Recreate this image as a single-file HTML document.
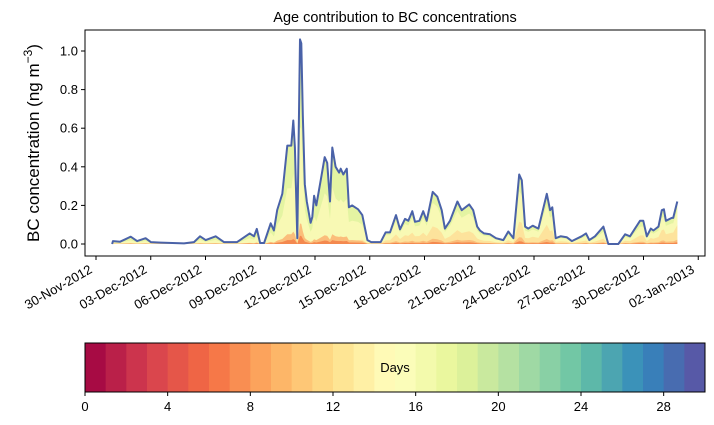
<!DOCTYPE html>
<html><head><meta charset="utf-8"><style>
html,body{margin:0;padding:0;background:#fff;}
svg{display:block;font-family:"Liberation Sans","DejaVu Sans",sans-serif;}
</style></head><body>
<svg id="c" width="714" height="425" viewBox="0 0 714 425"></svg>
<script>
const days=[0.88,0.93,1.32,1.90,2.25,2.72,3.00,3.55,4.82,5.37,5.70,6.01,6.56,7.01,7.73,8.42,8.66,8.81,8.99,9.21,9.57,9.75,9.93,10.21,10.48,10.70,10.81,10.90,11.03,11.18,11.25,11.33,11.44,11.55,11.76,11.85,11.95,12.07,12.31,12.53,12.67,12.82,12.95,13.13,13.32,13.41,13.55,13.74,13.86,14.04,14.36,14.59,14.87,15.08,15.60,15.87,16.11,16.44,16.66,16.93,17.11,17.33,17.48,17.72,17.93,18.12,18.45,18.70,18.94,19.12,19.40,19.80,20.04,20.45,20.67,20.89,21.04,21.26,21.59,21.92,22.32,22.59,22.87,23.19,23.33,23.51,23.69,23.93,24.24,24.70,24.88,25.00,25.19,25.46,25.79,26.07,26.61,26.85,27.03,27.34,27.80,28.07,28.62,28.99,29.26,29.81,29.99,30.18,30.40,30.54,30.82,31.00,31.12,31.23,31.55,31.63,31.85];
const total=[0,.015,.012,.038,.015,.03,.01,.007,.003,.01,.04,.02,.04,.01,.01,.055,.04,.078,.005,.005,.107,.07,.176,.26,.51,.51,.64,.5,.03,1.06,1.04,.67,.31,.22,.11,.14,.25,.2,.33,.45,.42,.22,.5,.4,.37,.39,.36,.39,.19,.2,.18,.15,.02,.01,.01,.06,.06,.15,.076,.13,.12,.17,.115,.12,.17,.12,.27,.245,.175,.08,.12,.22,.175,.205,.175,.09,.07,.055,.05,.03,.02,.065,.03,.36,.33,.09,.08,.095,.08,.26,.175,.19,.03,.04,.035,.015,.04,.055,.02,.04,.09,0,0,.05,.04,.12,.12,.04,.08,.07,.09,.175,.18,.12,.135,.135,.22];
const shareDays=[0,9,14,15.5,17,23,24,28,32];
const orangeShare=[.06,.06,.05,.3,.35,.3,.4,.3,.45];
const yellowShare=[.5,.55,.6,.75,.8,.75,.8,.7,.8];
const xTickLabels=["30-Nov-2012","03-Dec-2012","06-Dec-2012","09-Dec-2012","12-Dec-2012","15-Dec-2012","18-Dec-2012","21-Dec-2012","24-Dec-2012","27-Dec-2012","30-Dec-2012","02-Jan-2013"];
const xTickDays=[0,3,6,9,12,15,18,21,24,27,30,33];
const yTicks=[0,0.2,0.4,0.6,0.8,1.0];
const cbTicks=[0,4,8,12,16,20,24,28];

const NS="http://www.w3.org/2000/svg",svg=document.getElementById('c');
function el(t,a,p){const e=document.createElementNS(NS,t);for(const k in a)e.setAttribute(k,a[k]);(p||svg).appendChild(e);return e;}
const L=85,R=705,T=30,B=256;
const xs=d=>96+d*18.25, ys=v=>244-v*193;
function interp(arr,d){for(let i=0;i<shareDays.length-1;i++){if(d<=shareDays[i+1]){const f=(d-shareDays[i])/(shareDays[i+1]-shareDays[i]);return arr[i]+f*(arr[i+1]-arr[i]);}}return arr[arr.length-1];}
function area(fn,fill,name){let d="M"+xs(days[0])+","+ys(0);days.forEach((t,i)=>{d+="L"+xs(t).toFixed(1)+","+ys(fn(i)).toFixed(1);});d+="L"+xs(days[days.length-1])+","+ys(0)+"Z";
const p=el('path',{d:d,fill:fill});

}
area(i=>total[i],'#e4f4a2','old-age-area');
area(i=>total[i]*interp(yellowShare,days[i]),'#f8f9b4','mid-age-area');
area(i=>total[i]*interp(orangeShare,days[i]),'#fde39c','young-age-area');
area(i=>total[i]*0.1,'#fbbd7a','younger-age-area');
area(i=>total[i]*0.04,'#f4894f','youngest-age-area');
let ld="";days.forEach((t,i)=>{ld+=(i?"L":"M")+xs(t).toFixed(1)+","+ys(total[i]).toFixed(1);});
const line=el('path',{d:ld,fill:'none',stroke:'#4a62a8','stroke-width':2,'stroke-linejoin':'round'});


const frame=el('rect',{x:L,y:T,width:R-L,height:B-T,fill:'none',stroke:'#000','stroke-width':1});


yTicks.forEach(v=>{const y=ys(v);el('line',{x1:L-4,x2:L,y1:y,y2:y,stroke:'#000'});
const t=el('text',{x:L-7,y:y+4.5,'text-anchor':'end','font-size':13});t.textContent=v.toFixed(1);

});
xTickDays.forEach((d,i)=>{const x=xs(d);el('line',{x1:x,x2:x,y1:B,y2:B+4,stroke:'#000'});
const ax=x-3,ay=B+16;
const t=el('text',{x:ax,y:ay,'text-anchor':'end','font-size':13,transform:`rotate(-30 ${ax} ${ay})`});t.textContent=xTickLabels[i];

});
const tt=el('text',{x:395,y:22,'text-anchor':'middle','font-size':14.5});tt.textContent="Age contribution to BC concentrations";


const yl=el('text',{x:0,y:0,'text-anchor':'middle','font-size':17,transform:'translate(39 143) rotate(-90)'});
yl.innerHTML='BC concentration (ng m<tspan dy="-7" font-size="12">−3</tspan><tspan dy="7">)</tspan>';


const sp=["#9e0142","#d53e4f","#f46d43","#fdae61","#fee08b","#ffffbf","#e6f598","#abdda4","#66c2a5","#3288bd","#5e4fa2"];
function hx(c){return [1,3,5].map(i=>parseInt(c.substr(i,2),16));}
function spec(t){const p=t*10,i=Math.min(9,Math.floor(p)),f=p-i,a=hx(sp[i]),b=hx(sp[i+1]);return `rgb(${a.map((v,k)=>Math.round(v+f*(b[k]-v))).join(',')})`;}
const CL=85,CR=705,CT=343,CB=392,cw=(CR-CL)/30;
for(let i=0;i<30;i++){const r=el('rect',{x:CL+i*cw,y:CT,width:cw+0.5,height:CB-CT,fill:spec((i+0.5)/30)});

}
const cbf=el('rect',{x:CL,y:CT,width:CR-CL,height:CB-CT,fill:'none',stroke:'#000'});


cbTicks.forEach(v=>{const x=CL+v*cw;el('line',{x1:x,x2:x,y1:CB,y2:CB+4,stroke:'#000'});
const t=el('text',{x:x,y:CB+19,'text-anchor':'middle','font-size':13});t.textContent=v;

});
const dl=el('text',{x:395,y:372,'text-anchor':'middle','font-size':13});dl.textContent="Days";


</script>
</body></html>
